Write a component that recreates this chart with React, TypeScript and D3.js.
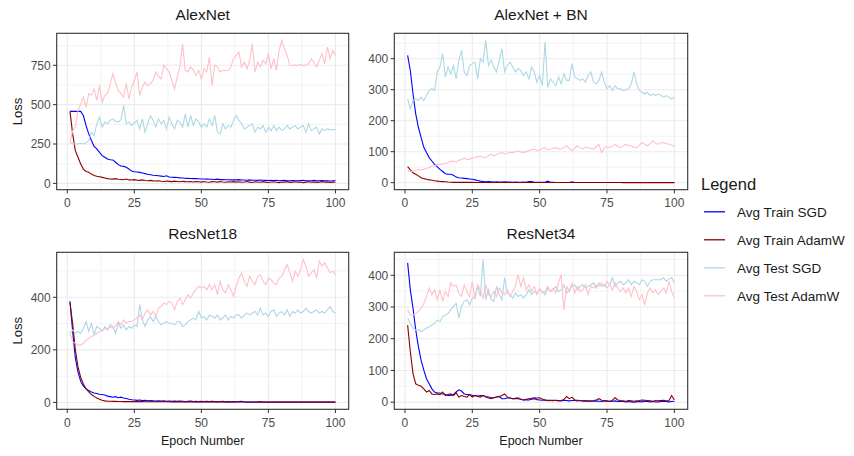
import React from "react";
import * as d3 from "d3";

const epochs: number[] = d3.range(1, 101);

const seriesNames = ["Avg Train SGD", "Avg Train AdamW", "Avg Test SGD", "Avg Test AdamW"];
const seriesColors = ["#0000FF", "#8B0000", "#ADD8E6", "#FFC0CB"];

// AlexNet
const alexTrainSGD = [457,457,457,457,457,431,367,314,272,234,219,197,176,166,155,150,149,134,119,110,108,102,91,78,74,72,70,66,62,58,55,52,50,48,46,44,48,41,39,38,37,35,34,33,32,31,30,30,29,28,28,27,26,26,25,27,24,24,23,23,22,23,22,24,21,21,20,22,20,20,19,21,20,19,18,20,18,19,17,18,19,17,16,18,17,16,18,20,17,16,17,19,16,17,18,16,17,15,16,18];
const alexTrainAdamW = [457,314,208,166,123,91,76,70,59,50,45,42,38,34,30,28,27,30,26,25,23,28,22,21,24,20,19,22,18,17,19,16,15,17,14,12,15,13,11,14,12,10,13,11,10,12,9,11,10,8,12,9,7,11,10,8,12,9,7,10,9,11,8,10,7,9,12,8,6,10,9,7,11,8,6,9,10,7,5,9,8,11,6,8,10,7,9,5,8,10,7,9,6,8,11,7,9,6,8,7];
const alexTestSGD = [261,250,252,250,255,250,258,272,325,304,378,420,357,389,378,400,410,395,389,405,495,378,389,367,385,400,346,410,325,378,431,400,357,410,378,400,346,420,378,346,400,389,357,442,357,431,367,410,389,357,378,357,410,367,431,325,314,378,346,367,357,400,431,400,378,346,357,367,378,325,357,346,367,325,357,335,367,335,357,335,346,367,346,357,367,346,357,367,325,378,335,346,357,314,346,335,346,340,342,340];
const alexTestAdamW = [260,335,357,460,505,548,484,570,560,600,527,622,516,560,570,630,696,640,590,570,548,633,537,611,650,707,558,610,643,620,633,654,707,680,664,750,730,707,654,600,675,739,887,718,707,739,720,686,718,664,728,707,803,622,750,739,707,718,715,718,739,792,813,834,739,771,728,782,887,707,771,739,782,760,824,728,792,718,845,908,855,813,750,748,752,750,755,748,752,760,792,771,739,782,824,760,866,792,845,813];

// AlexNet + BN
const bnTrainSGD = [411,362,286,222,178,146,114,97,81,70,59,51,43,36,29,27,27,24,18,16,15,14,13,12,11,9,7,5,4,3,4,3,2,3,2,2,3,2,2,1.5,2,1.5,1,2,1,4,4,1,1,1,1,1,5,1,1,0.5,0.5,0.5,0.5,0.5,0.5,3,0.5,0.5,0.5,0.5,0.5,0.5,0.5,0.5,0.5,0.5,0.5,0.5,0.5,0.5,0.5,0.5,0.5,0.5,0.5,0.5,0.5,0.5,0.5,0.5,0.5,0.5,0.5,0.5,0.5,0.5,0.5,0.5,0.5,0.5,0.5,0.5,0.5,0.5];
const bnTrainAdamW = [52,41,32,27,22,16,13,11,9,8,6,5,4,3.5,3,2,1.5,1,1,1,1,1,0.9,0.9,0.9,0.8,0.8,0.8,0.8,0.8,0.7,0.7,0.7,0.7,0.7,0.6,0.6,0.6,0.6,0.6,0.6,0.5,0.5,0.5,0.5,0.5,0.5,0.5,0.5,0.5,0.5,0.5,0.5,0.5,0.5,0.5,0.5,0.5,0.5,0.5,0.4,0.4,0.4,0.4,0.4,0.4,0.4,0.4,0.4,0.4,0.4,0.4,0.4,0.4,0.4,0.4,0.4,0.4,0.4,0.4,0.3,0.3,0.3,0.3,0.3,0.3,0.3,0.3,0.3,0.3,0.3,0.3,0.3,0.3,0.3,0.3,0.3,0.3,0.3,0.3];
const bnTestSGD = [270,238,265,270,265,276,265,281,297,303,297,357,373,416,341,373,351,378,335,395,427,357,346,378,384,389,335,400,389,459,378,395,373,357,395,432,357,378,389,373,357,368,362,346,357,335,373,357,324,346,313,454,308,335,324,313,341,319,351,330,330,384,341,335,330,335,324,346,357,324,319,330,357,324,303,313,297,313,303,303,297,300,303,319,357,319,297,292,286,292,281,286,281,286,281,276,281,276,270,276];
const bnTestAdamW = [38,36,38,40,43,41,43,46,49,54,55,59,58,62,61,65,68,70,67,72,75,79,74,76,80,81,84,86,82,81,88,92,87,90,95,97,92,94,98,97,100,103,99,97,101,103,106,108,104,105,110,113,107,108,111,113,109,108,114,119,110,103,112,119,113,108,115,113,110,108,116,124,97,113,116,113,118,124,117,113,118,124,120,119,114,113,121,130,124,119,126,135,127,124,128,130,126,124,121,117];

// ResNet18
const r18TrainSGD = [385,270,170,115,80,62,52,45,40,36,34,31,30,28,24,22,20,22,18,20,17,15,12,10,9,8,9,7,8,6,7,6,5,6,5,6,4,5,4,5,4,5,4,3,4,5,3,4,3,4,3,4,3,4,3,2,3,4,2,3,2,3,2,3,4,2,1,1,1,1,1,3,1,1,1,1,1,1,1,1,1,1,1,1,1,1,1,1,1,1,1,1,1,1,1,1,1,1,1,1];
const r18TrainAdamW = [380,300,200,135,95,70,52,40,30,23,17,12,8,6,5,4.5,4,4,3.5,3.5,3,3,3,3,3,3,3,3,2.5,2.5,2.5,2.5,2.5,2.5,2.5,2.5,2.5,2.5,2,2,2,2,2,2,2,2,2,2,2,2,2,2,2,2,2,2,2,2,2,2,1.5,1.5,1.5,1.5,1.5,1.5,1.5,1.5,1.5,1.5,1,1,1,1,1,1,1,1,1,1,1,1,1,1,1,1,1,1,1,1,1,1,1,1,1,1,1,1,1,1];
const r18TestSGD = [263,276,263,270,263,282,308,270,301,257,289,282,270,289,276,295,289,263,301,282,295,276,289,282,295,289,372,314,289,314,327,308,327,308,295,301,308,301,301,295,308,308,289,295,308,314,321,314,346,321,327,314,333,327,321,333,314,321,333,314,327,321,333,333,321,333,340,333,340,346,333,359,333,340,327,346,352,327,340,346,333,352,327,346,340,352,340,346,359,346,340,346,352,340,346,340,352,365,346,340];
const r18TestAdamW = [263,231,225,218,218,225,235,244,250,257,263,270,276,282,276,289,282,291,308,295,314,301,308,308,314,321,333,314,340,352,333,346,327,359,365,378,372,384,378,352,384,397,372,391,410,397,416,429,442,435,442,429,448,429,448,410,461,429,416,448,429,404,442,473,493,461,442,480,461,448,480,486,461,448,473,467,454,448,473,480,505,525,493,461,499,480,505,544,518,480,493,505,473,537,518,531,512,493,499,486];

// ResNet34
const r34TrainSGD = [439,354,296,228,175,132,101,74,58,42,32,29,29,26,24,21,21,24,32,39,35,26,24,24,21,21,19,21,21,18,16,14,14,16,18,11,11,13,13,11,12,11,9,7,8,7,9,11,8,7,6,7,5,6,5,6,5,4,6,5,4,5,6,4,5,4,3,4,3,3,4,3,2,4,3,2,3,4,2,3,2,1,2,1,0,1,2,1,3,2,1,2,0.5,1,2,3,2,1,2,3];
const r34TrainAdamW = [243,159,90,58,53,50,42,32,37,26,24,26,24,32,21,24,26,21,29,16,21,18,16,24,16,21,18,16,21,16,13,11,14,16,18,21,26,16,13,11,12,14,9,7,9,11,12,14,13,14,10,7,6,5,6,5,4,5,8,18,11,16,7,6,5,4,5,3,4,5,7,11,6,5,4,3,6,14,7,5,4,3,5,4,3,4,5,7,6,5,4,3,5,4,5,6,4,5,21,7];
const r34TestSGD = [265,249,233,228,228,222,228,233,238,243,249,259,254,270,275,280,291,302,312,265,302,318,323,307,328,333,365,333,450,323,354,323,318,365,339,323,392,344,339,328,344,333,339,328,339,354,339,349,344,354,349,339,360,349,354,365,349,354,370,344,354,365,370,354,365,370,360,365,370,376,360,376,365,370,360,370,392,365,376,381,370,376,386,370,381,376,370,386,381,365,381,386,386,386,386,392,381,388,392,376];
const r34TestAdamW = [291,275,275,280,286,296,312,333,360,339,354,323,354,318,349,333,376,365,370,344,333,370,349,333,381,323,370,354,328,370,339,333,349,333,360,344,339,354,333,349,365,402,365,392,354,370,349,365,339,360,344,349,365,349,360,344,376,402,291,365,349,376,344,365,349,354,370,339,365,360,370,365,376,365,381,370,354,376,360,349,360,344,360,333,365,349,323,339,307,344,360,344,354,339,349,360,344,381,349,328];

type PanelDef = {
  title: string;
  series: number[][];
  yTicks: number[];
  yMinor: number[];
  x0: number; x1: number; y0: number; y1: number;
  showXTitle: boolean;
  showYTitle: boolean;
};

const xTicks = [0, 25, 50, 75, 100];
const xMinor = [12.5, 37.5, 62.5, 87.5];

const FONT = "'Liberation Sans', Arial, sans-serif";

function Panel({ p }: { p: PanelDef }) {
  const xs = d3.scaleLinear().domain([1 - 4.95, 100 + 4.95]).range([p.x0, p.x1]);
  const all = p.series.flat();
  const [mn, mx] = d3.extent(all) as [number, number];
  const pad = (mx - mn) * 0.05;
  const ys = d3.scaleLinear().domain([mn - pad, mx + pad]).range([p.y1, p.y0]);
  const line = d3.line<number>().x((_, i) => xs(epochs[i])).y((d) => ys(d));
  const cx = (p.x0 + p.x1) / 2;
  const cy = (p.y0 + p.y1) / 2;
  const grid = "#EBEBEB";
  return (
    <g>
      <rect x={p.x0} y={p.y0} width={p.x1 - p.x0} height={p.y1 - p.y0} fill="white" />
      {xMinor.map((t) => (
        <line key={"xm" + t} x1={xs(t)} x2={xs(t)} y1={p.y0} y2={p.y1} stroke={grid} strokeWidth={0.6} />
      ))}
      {p.yMinor.map((t) => (
        <line key={"ym" + t} x1={p.x0} x2={p.x1} y1={ys(t)} y2={ys(t)} stroke={grid} strokeWidth={0.6} />
      ))}
      {xTicks.map((t) => (
        <line key={"xg" + t} x1={xs(t)} x2={xs(t)} y1={p.y0} y2={p.y1} stroke={grid} strokeWidth={1.1} />
      ))}
      {p.yTicks.map((t) => (
        <line key={"yg" + t} x1={p.x0} x2={p.x1} y1={ys(t)} y2={ys(t)} stroke={grid} strokeWidth={1.1} />
      ))}
      {p.series.map((s, i) => (
        <path key={"s" + i} d={line(s) || ""} fill="none" stroke={seriesColors[i]} strokeWidth={1.1} />
      ))}
      <rect x={p.x0} y={p.y0} width={p.x1 - p.x0} height={p.y1 - p.y0} fill="none" stroke="#333333" strokeWidth={1.1} />
      {xTicks.map((t) => (
        <g key={"xt" + t}>
          <line x1={xs(t)} x2={xs(t)} y1={p.y1} y2={p.y1 + 3.7} stroke="#333333" strokeWidth={1} />
          <text x={xs(t)} y={p.y1 + 17.5} textAnchor="middle" fontSize={12} fill="#4D4D4D" fontFamily={FONT}>{t}</text>
        </g>
      ))}
      {p.yTicks.map((t) => (
        <g key={"yt" + t}>
          <line x1={p.x0 - 3.7} x2={p.x0} y1={ys(t)} y2={ys(t)} stroke="#333333" strokeWidth={1} />
          <text x={p.x0 - 6} y={ys(t) + 4.3} textAnchor="end" fontSize={12} fill="#4D4D4D" fontFamily={FONT}>{t}</text>
        </g>
      ))}
      <text x={cx} y={p.y0 - 13} textAnchor="middle" fontSize={15.5} fill="#1A1A1A" fontFamily={FONT}>{p.title}</text>
      {p.showXTitle && (
        <text x={cx} y={p.y1 + 35.5} textAnchor="middle" fontSize={12.5} fill="#1A1A1A" fontFamily={FONT}>Epoch Number</text>
      )}
      {p.showYTitle && (
        <text transform={`translate(22,${cy}) rotate(-90)`} textAnchor="middle" fontSize={13} fill="#1A1A1A" fontFamily={FONT}>Loss</text>
      )}
    </g>
  );
}

const panels: PanelDef[] = [
  { title: "AlexNet", series: [alexTrainSGD, alexTrainAdamW, alexTestSGD, alexTestAdamW], yTicks: [0, 250, 500, 750], yMinor: [125, 375, 625, 875], x0: 56.7, x1: 348.7, y0: 33.3, y1: 189.7, showXTitle: false, showYTitle: true },
  { title: "AlexNet + BN", series: [bnTrainSGD, bnTrainAdamW, bnTestSGD, bnTestAdamW], yTicks: [0, 100, 200, 300, 400], yMinor: [50, 150, 250, 350, 450], x0: 394.3, x1: 687.7, y0: 33.3, y1: 189.7, showXTitle: false, showYTitle: false },
  { title: "ResNet18", series: [r18TrainSGD, r18TrainAdamW, r18TestSGD, r18TestAdamW], yTicks: [0, 200, 400], yMinor: [100, 300, 500], x0: 56.7, x1: 348.7, y0: 252.3, y1: 409.3, showXTitle: true, showYTitle: true },
  { title: "ResNet34", series: [r34TrainSGD, r34TrainAdamW, r34TestSGD, r34TestAdamW], yTicks: [0, 100, 200, 300, 400], yMinor: [50, 150, 250, 350, 450], x0: 394.3, x1: 687.7, y0: 252.3, y1: 409.3, showXTitle: true, showYTitle: false },
];

export default function App() {
  return (
    <div>
      <style>{`body{margin:0}`}</style>
      <svg width={854} height={456} style={{ display: "block" }}>
        <rect x={0} y={0} width={854} height={456} fill="white" />
        {panels.map((p) => (
          <Panel key={p.title} p={p} />
        ))}
        <g>
          <text x={701} y={189.5} fontSize={16.5} fill="#1A1A1A" fontFamily={FONT}>Legend</text>
          {seriesNames.map((n, i) => (
            <g key={n}>
              <line x1={704} x2={725} y1={211.8 + i * 28} y2={211.8 + i * 28} stroke={seriesColors[i]} strokeWidth={1.3} />
              <text x={737} y={211.8 + i * 28 + 4.8} fontSize={13.5} fill="#1A1A1A" fontFamily={FONT}>{n}</text>
            </g>
          ))}
        </g>
      </svg>
    </div>
  );
}
